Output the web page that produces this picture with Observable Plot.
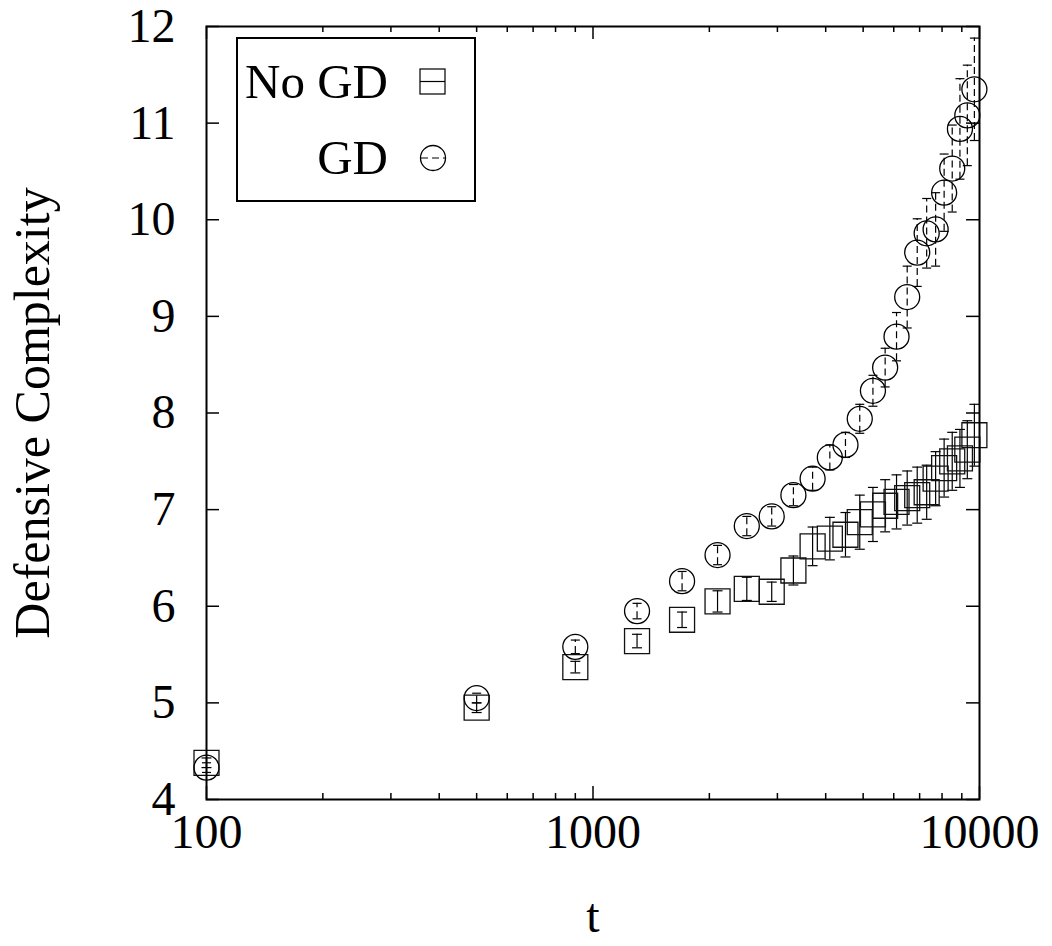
<!DOCTYPE html>
<html>
<head>
<meta charset="utf-8">
<script src="https://cdn.jsdelivr.net/npm/d3@7"></script>
<script src="https://cdn.jsdelivr.net/npm/@observablehq/plot@0.6"></script>
<style>
  html, body { margin: 0; padding: 0; background: #fff; }
  #chart { width: 1052px; height: 946px; position: relative; }
</style>
</head>
<body>
<div id="chart"></div>
<script>
// ---- data ----
const times = [100, 500, 900, 1300, 1700, 2100, 2500, 2900, 3300, 3700, 4100, 4500, 4900,
               5300, 5700, 6100, 6500, 6900, 7300, 7700, 8100, 8500, 8900, 9300, 9700];
const noGD = [4.38, 4.95, 5.37, 5.64, 5.86, 6.05, 6.18, 6.15, 6.37, 6.62, 6.70, 6.74, 6.87,
              6.95, 7.04, 7.08, 7.12, 7.15, 7.18, 7.32, 7.43, 7.50, 7.53, 7.62, 7.77];
const noGDErr = [0.05, 0.05, 0.06, 0.07, 0.08, 0.11, 0.12, 0.10, 0.15, 0.20, 0.22, 0.23, 0.28,
                 0.28, 0.27, 0.28, 0.28, 0.29, 0.28, 0.28, 0.30, 0.30, 0.30, 0.30, 0.32];
const gd = [4.33, 5.05, 5.58, 5.95, 6.26, 6.53, 6.83, 6.93, 7.15, 7.32, 7.54, 7.67, 7.94,
            8.23, 8.47, 8.79, 9.20, 9.66, 9.86, 9.90, 10.28, 10.53, 10.94, 11.08, 11.35];
const gdErr = [0.05, 0.05, 0.07, 0.08, 0.10, 0.10, 0.10, 0.10, 0.11, 0.12, 0.13, 0.13, 0.15,
               0.16, 0.20, 0.25, 0.32, 0.35, 0.36, 0.38, 0.40, 0.45, 0.52, 0.52, 0.53];
const xMajorTicks = [100, 1000, 10000];
const xMinorTicks = [200, 300, 400, 500, 600, 700, 800, 900, 2000, 3000, 4000, 5000, 6000, 7000, 8000, 9000];
const yTicks = [4, 5, 6, 7, 8, 9, 10, 11, 12];
const seriesNames = ["No GD", "GD"];
const xLabel = "t";
const yLabel = "Defensive Complexity";

// ---- build ----
const rowsNo = times.map((t, i) => ({t, y: noGD[i], e: noGDErr[i]}));
const rowsGD = times.map((t, i) => ({t, y: gd[i], e: gdErr[i]}));

const W = 1052, H = 946;
const mL = 206, mR = 73, mT = 26, mB = 147;
const pw = W - mL - mR, ph = H - mT - mB;
const FONT = "'Liberation Serif', 'Times New Roman', Times, serif";

const capSymbol = {
  draw(ctx, size) {
    const r = Math.sqrt(size / Math.PI);
    ctx.moveTo(-r, 0);
    ctx.lineTo(r, 0);
  }
};

const chart = Plot.plot({
  width: W,
  height: H,
  marginLeft: mL, marginRight: mR, marginTop: mT, marginBottom: mB,
  style: {fontFamily: FONT, fontSize: "48px", background: "white", color: "black", overflow: "visible"},
  x: {type: "log", domain: [100, 10000]},
  y: {domain: [4, 12]},
  marks: [
    // inward ticks, all four sides
    Plot.tickX(xMajorTicks, {x: d => d, insetTop: ph - 13, stroke: "black", strokeWidth: 1.5}),
    Plot.tickX(xMajorTicks, {x: d => d, insetBottom: ph - 13, stroke: "black", strokeWidth: 1.5}),
    Plot.tickX(xMinorTicks, {x: d => d, insetTop: ph - 6, stroke: "black", strokeWidth: 1.5}),
    Plot.tickX(xMinorTicks, {x: d => d, insetBottom: ph - 6, stroke: "black", strokeWidth: 1.5}),
    Plot.tickY(yTicks, {y: d => d, insetRight: pw - 13, stroke: "black", strokeWidth: 1.5}),
    Plot.tickY(yTicks, {y: d => d, insetLeft: pw - 13, stroke: "black", strokeWidth: 1.5}),
    // tick labels
    Plot.axisX(xMajorTicks, {tickSize: 0, tickPadding: 14, tickFormat: d => String(d), fontSize: 48, label: null}),
    Plot.axisY(yTicks, {tickSize: 0, tickPadding: 31, tickFormat: d => String(d), fontSize: 48, label: null}),
    // axis titles
    Plot.axisX(xMajorTicks, {tickSize: 0, tickFormat: () => "", fontSize: 48,
      label: xLabel, labelAnchor: "center", labelArrow: "none", labelOffset: 132}),
    Plot.axisY(yTicks, {tickSize: 0, tickFormat: () => "", fontSize: 50,
      label: yLabel, labelAnchor: "center", labelArrow: "none", labelOffset: 193}),
    // No GD error bars (solid)
    Plot.ruleX(rowsNo, {x: "t", y1: d => d.y - d.e, y2: d => d.y + d.e, stroke: "black", strokeWidth: 1.2}),
    Plot.dot(rowsNo, {x: "t", y: d => d.y - d.e, symbol: capSymbol, r: 5, stroke: "black", strokeWidth: 1.2}),
    Plot.dot(rowsNo, {x: "t", y: d => d.y + d.e, symbol: capSymbol, r: 5, stroke: "black", strokeWidth: 1.2}),
    Plot.dot(rowsNo, {x: "t", y: "y", symbol: "square", r: 14.1, stroke: "#111", fill: "none", strokeWidth: 1.3}),
    // GD error bars (dashed)
    Plot.ruleX(rowsGD, {x: "t", y1: d => d.y - d.e, y2: d => d.y + d.e, stroke: "black", strokeWidth: 1.2, strokeDasharray: "7,4"}),
    Plot.dot(rowsGD, {x: "t", y: d => d.y - d.e, symbol: capSymbol, r: 4.5, stroke: "black", strokeWidth: 1.2}),
    Plot.dot(rowsGD, {x: "t", y: d => d.y + d.e, symbol: capSymbol, r: 4.5, stroke: "black", strokeWidth: 1.2}),
    Plot.dot(rowsGD, {x: "t", y: "y", symbol: "circle", r: 12.5, stroke: "black", fill: "none", strokeWidth: 1.3}),
    Plot.frame({stroke: "black", strokeWidth: 2})
  ]
});

document.getElementById("chart").appendChild(chart);

// ---- legend (inside the plot, top-left) ----
const svg = d3.select(chart);
const lg = svg.append("g").attr("class", "legend");
lg.append("rect").attr("x", 237).attr("y", 38).attr("width", 238).attr("height", 163)
  .attr("fill", "white").attr("stroke", "black").attr("stroke-width", 2);
const rowsY = [81.5, 158];
seriesNames.forEach((name, i) => {
  lg.append("text").attr("x", 388).attr("y", rowsY[i] + 16).attr("text-anchor", "end")
    .attr("font-family", FONT).attr("font-size", 49).attr("fill", "black").text(name);
});
// square + solid line
lg.append("rect").attr("x", 420).attr("y", rowsY[0] - 12.5).attr("width", 25).attr("height", 25)
  .attr("fill", "none").attr("stroke", "#111").attr("stroke-width", 1.3);
lg.append("line").attr("x1", 420).attr("x2", 445).attr("y1", rowsY[0]).attr("y2", rowsY[0])
  .attr("stroke", "black").attr("stroke-width", 1.2);
// circle + dashed line
lg.append("circle").attr("cx", 433).attr("cy", rowsY[1]).attr("r", 12.5)
  .attr("fill", "none").attr("stroke", "black").attr("stroke-width", 1.3);
lg.append("line").attr("x1", 421).attr("x2", 445).attr("y1", rowsY[1]).attr("y2", rowsY[1])
  .attr("stroke", "black").attr("stroke-width", 1.2).attr("stroke-dasharray", "7,4");
</script>
</body>
</html>
